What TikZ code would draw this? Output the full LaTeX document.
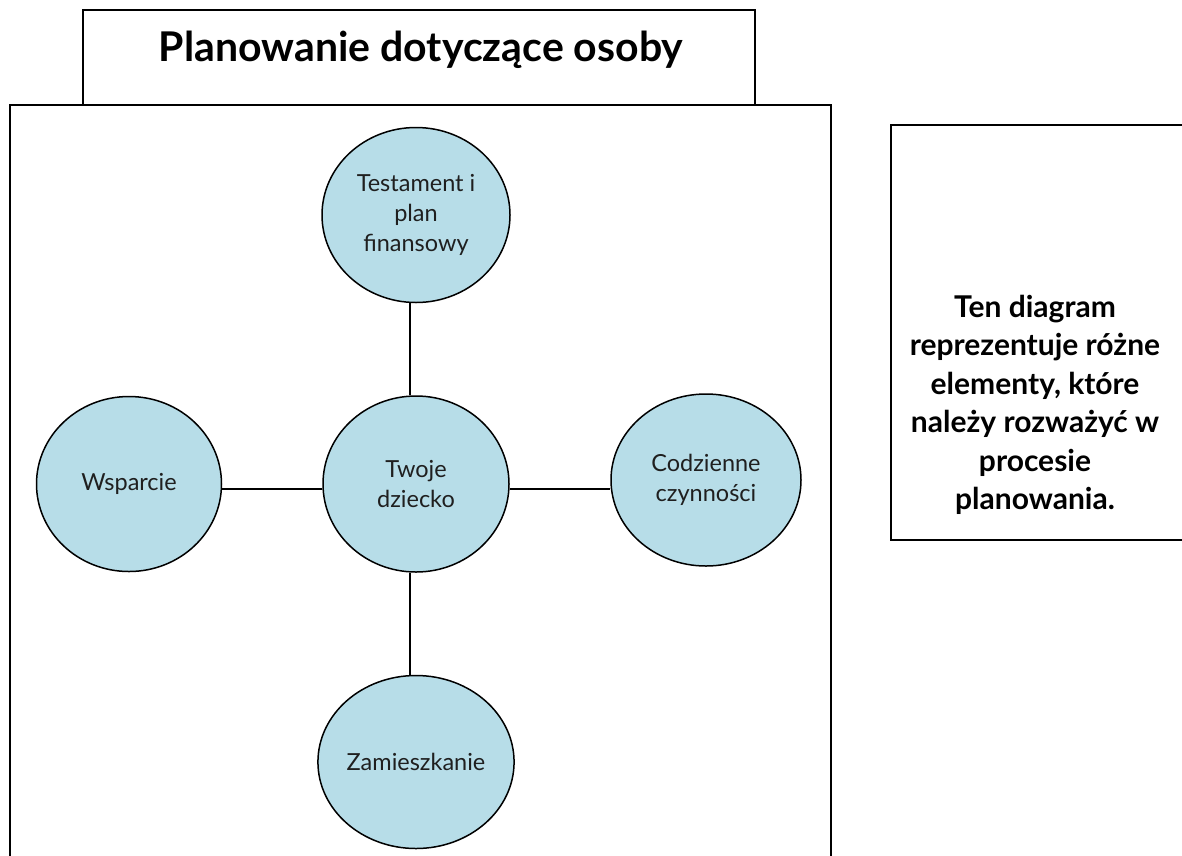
\documentclass[tikz,border=0pt]{standalone}
\usepackage{fontspec}
\setmainfont{Lato}
\definecolor{circfill}{HTML}{B7DDE8}
\usetikzlibrary{shapes.geometric}
\tikzset{
  x=1pt, y=-1pt,
  frame/.style={draw=black, line width=2pt},
  bubble/.style={ellipse, draw=black, line width=1.5pt, fill=circfill, align=center, inner sep=0pt,
    font=\fontsize{23.5}{30}\selectfont, text=black!88},
  link/.style={draw=black, line width=2.6pt},
}
\begin{document}
\begin{tikzpicture}
\useasboundingbox (0,0) rectangle (1182,855);
% title box
\draw[frame] (83,105) -- (83,10) -- (755,10) -- (755,105);
\node[font=\fontsize{41}{46}\selectfont\bfseries] (title) at (421,50) {Planowanie dotyczące osoby};
% main box
\draw[frame] (10,880) -- (10,105) -- (831,105) -- (831,880);
% right box
\draw[frame] (1195,125) -- (891,125) -- (891,540) -- (1195,540);
\node[align=center, font=\fontsize{30}{38.5}\selectfont\bfseries] (note) at (1035,405)
  {Ten diagram\\reprezentuje różne\\elementy, które\\należy rozważyć w\\procesie\\planowania.};
% circles
\node[bubble, minimum width=188, minimum height=175] (top) at (416,215) {Testament i\\plan\\finansowy};
\node[bubble, minimum width=186, minimum height=176] (c) at (416,484) {Twoje\\dziecko};
\node[bubble, minimum width=185, minimum height=175] (l) at (129,484) {Wsparcie};
\node[bubble, minimum width=190, minimum height=172] (r) at (706,480) {Codzienne\\czynności};
\node[bubble, minimum width=186, minimum height=173] (b) at (416,762) {Zamieszkanie};
% connectors
\draw[link] ([xshift=-6pt]top.south) -- ([xshift=-6pt]c.north);
\draw[link] ([xshift=-6pt]c.south) -- ([xshift=-6pt]b.north);
\draw[link] ([yshift=-5pt]c.west) -- ([yshift=-5pt]c.west -| l.east);
\draw[link] ([yshift=-5pt]c.east) -- ([yshift=-5pt]c.east -| r.west);
\end{tikzpicture}
\end{document}
